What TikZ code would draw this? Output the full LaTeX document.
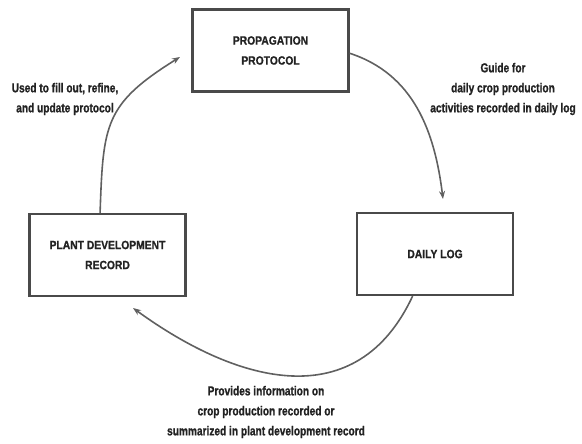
\documentclass[tikz,border=0pt]{standalone}
\usepackage{fontspec}
\setmainfont{Liberation Sans}
\newfontfamily\boxfont[FakeStretch=0.86,FakeBold=1]{Liberation Sans}
\newfontfamily\lblfont[FakeStretch=0.78,FakeBold=1]{Liberation Sans}
\usetikzlibrary{arrows.meta}
\definecolor{ink}{HTML}{222222}
\definecolor{edgec}{HTML}{4A4A4A}
\definecolor{arcc}{HTML}{606060}
\begin{document}
\begin{tikzpicture}[x=1pt,y=1pt,
  box/.style={draw=edgec, line width=2.2pt, minimum width=156pt, minimum height=82pt,
    inner sep=0pt, align=center, text=ink, font=\boxfont\bfseries\fontsize{12}{20}\selectfont},
  lbl/.style={align=center, text=ink, inner sep=0pt, font=\lblfont\bfseries\fontsize{13}{20}\selectfont},
  cyc/.style={draw=arcc, line width=1.6pt, -{Stealth[length=8pt,width=6pt]}}]
\useasboundingbox (0,0) rectangle (582,444);
\node[box] (prop) at (270.5,393.5) {PROPAGATION\\PROTOCOL};
\node[box] (log) at (435,190) {DAILY LOG};
\node[box] (plant) at (107.5,189) {PLANT DEVELOPMENT\\RECORD};
\node[lbl] (l1) at (65,345) {Used to fill out, refine,\\and update protocol};
\node[lbl] (l2) at (503,355) {Guide for\\daily crop production\\activities recorded in daily log};
\node[lbl] (l3) at (266,32) {Provides information on\\crop production recorded or\\summarized in plant development record};
\coordinate (t1) at (443,245);
\coordinate (t2) at (180,387);
\coordinate (t3) at (133,136);
\draw[cyc] (prop.-2) to[out=-18,in=97] (t1);
\draw[cyc] (log.242) to[out=-115,in=-36,looseness=1.2] (t3);
\draw[cyc] (plant.100) to[out=88,in=212,looseness=1.3] (t2);
\end{tikzpicture}
\end{document}
